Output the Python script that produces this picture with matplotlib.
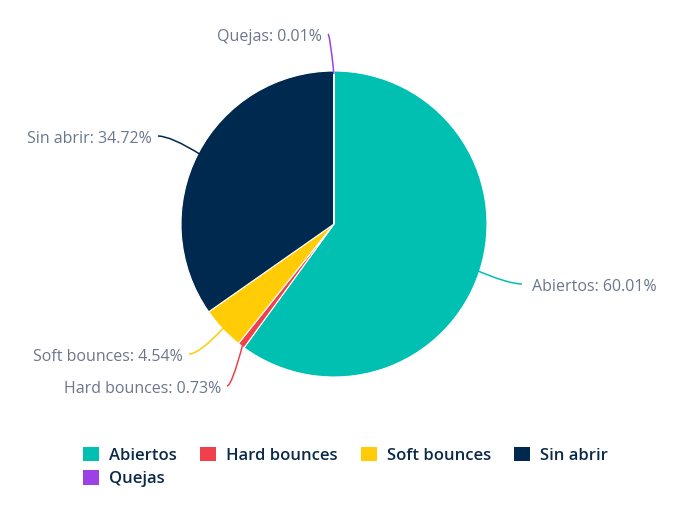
import matplotlib
matplotlib.use("Agg")
import matplotlib.pyplot as plt
from matplotlib.path import Path
from matplotlib.patches import PathPatch, Patch
import numpy as np

plt.rcParams['font.family'] = ['Open Sans', 'DejaVu Sans']

categories = ["Abiertos", "Hard bounces", "Soft bounces", "Sin abrir", "Quejas"]
values = [60.01, 0.73, 4.54, 34.72, 0.01]
colors = ["#00c0b1", "#f1404b", "#ffcc05", "#00294f", "#9b41e6"]

# where each label text sits (pixels from top-left) and which side it hangs on
labelPos = [(532, 287), (221, 389), (183, 357), (152, 139), (322, 37)]
labelSide = ["left", "right", "right", "right", "right"]

W, H = 682, 515
cx, cy, r = 334, 224, 153

fig = plt.figure(figsize=(W / 100, H / 100), dpi=100)
ax = fig.add_axes([(cx - r) / W, (H - cy - r) / H, 2 * r / W, 2 * r / H])
wedges, _ = ax.pie(values, colors=colors, startangle=90, counterclock=False, radius=1,
                   wedgeprops=dict(edgecolor="white", linewidth=0.8))
ax.set_xlim(-1, 1)
ax.set_ylim(-1, 1)
ax.set_aspect("equal")
ax.axis("off")

def toData(px, py) :
    return (px - cx) / r, (cy - py) / r

for wedge, cat, val, col, (px, py), side in zip(wedges, categories, values, colors, labelPos, labelSide) :
    theta = np.deg2rad((wedge.theta1 + wedge.theta2) / 2)
    sx, sy = 0.98 * np.cos(theta), 0.98 * np.sin(theta)
    gap = 10 if side == "left" else -6
    ex, ey = toData(px - gap, py - 3)
    ctrl = (ex + 0.3 * (sx - ex), ey)
    path = Path([(sx, sy), ctrl, (ex, ey)], [Path.MOVETO, Path.CURVE3, Path.CURVE3])
    ax.add_patch(PathPatch(path, facecolor="none", edgecolor=col, linewidth=1.1, clip_on=False))
    tx, ty = toData(px, py)
    ax.text(tx, ty, cat + ": " + "%.2f%%" % val, ha=side, va="center",
            fontsize=11.5, color="#6b778c", clip_on=False)

handles = [Patch(facecolor=c, edgecolor="none") for c in colors]
order = [0, 4, 1, 2, 3]
fig.legend([handles[i] for i in order], [categories[i] for i in order],
           loc="upper left", bbox_to_anchor=(83 / W, 1 - 447 / H), ncol=4,
           frameon=False, borderpad=0, borderaxespad=0,
           handlelength=0.95, handleheight=0.95, handletextpad=0.6,
           columnspacing=1.4, labelspacing=0.38,
           prop=dict(size=12, weight="semibold"), labelcolor="#0b2a4a")

plt.savefig("out.png", dpi=100)
